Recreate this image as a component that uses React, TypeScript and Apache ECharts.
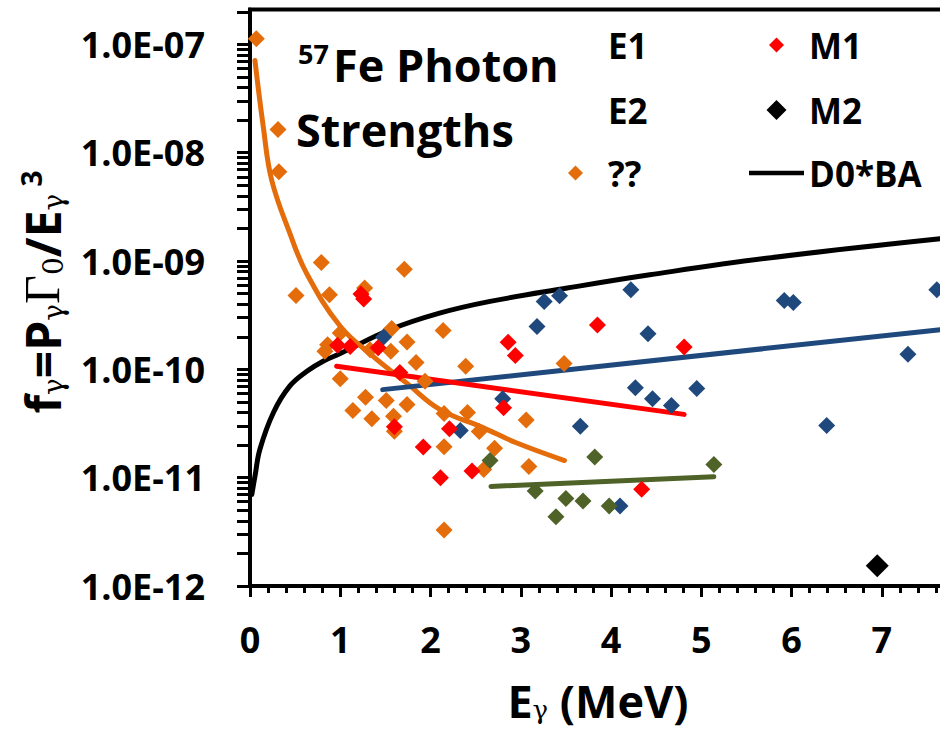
import React, { useEffect, useRef } from 'react';
import * as echarts from 'echarts';

// ---------- data ----------
const e1Energy = [1.48, 2.33, 2.80, 3.18, 3.26, 3.43, 3.66, 4.10, 4.22, 4.27, 4.41, 4.46, 4.67, 4.95, 5.92, 6.02, 6.39, 7.29, 7.61];
const e1Strength = [1.99e-10, 2.73e-11, 5.35e-11, 2.49e-10, 4.24e-10, 4.78e-10, 2.99e-11, 5.49e-12, 5.43e-10, 6.76e-11, 2.13e-10, 5.35e-11, 4.65e-11, 6.65e-11, 4.33e-10, 4.15e-10, 3.04e-11, 1.38e-10, 5.43e-10];

const e2Energy = [2.66, 3.16, 3.39, 3.50, 3.69, 3.82, 3.98, 5.14];
const e2Strength = [1.44e-11, 7.55e-12, 4.35e-12, 6.43e-12, 6.1e-12, 1.55e-11, 5.49e-12, 1.32e-11];

const unkEnergy = [0.07, 0.31, 0.32, 0.51, 0.79, 0.88, 1.27, 1.71, 1.57, 2.14, 1.74, 1.00, 0.86, 0.83, 1.33, 1.56, 1.84, 2.39, 1.00, 1.28, 1.51, 1.74, 1.94, 1.14, 1.35, 1.59, 1.60, 2.15, 2.41, 2.54, 2.15, 2.59, 2.15, 3.48, 3.06, 2.71, 3.09];
const unkStrength = [1.13e-7, 1.64e-8, 6.67e-9, 4.81e-10, 9.68e-10, 4.89e-10, 5.63e-10, 8.4e-10, 2.38e-10, 2.28e-10, 1.79e-10, 2.17e-10, 1.69e-10, 1.47e-10, 1.52e-10, 1.47e-10, 1.16e-10, 1.07e-10, 8.2e-11, 5.53e-11, 5.16e-11, 4.74e-11, 7.76e-11, 4.18e-11, 3.5e-11, 3.7e-11, 2.69e-11, 3.92e-11, 4.0e-11, 2.67e-11, 1.93e-11, 1.19e-11, 3.28e-12, 1.13e-10, 3.4e-11, 1.87e-11, 1.27e-11];

const m1Energy = [1.23, 1.26, 0.97, 1.11, 1.42, 1.66, 1.60, 2.21, 1.92, 2.11, 2.46, 2.81, 2.94, 2.86, 3.85, 4.81, 4.34];
const m1Strength = [4.95e-10, 4.46e-10, 1.67e-10, 1.63e-10, 1.58e-10, 9.35e-11, 2.95e-11, 2.83e-11, 1.92e-11, 1.0e-11, 1.15e-11, 4.42e-11, 1.34e-10, 1.78e-10, 2.57e-10, 1.61e-10, 7.8e-12];

const m2Energy = [6.95];
const m2Strength = [1.54e-12];

// D0*BA curve
const baEnergy = [0.02, 0.055, 0.11, 0.26, 0.44, 0.63, 0.81, 1.0, 1.55, 2.1, 2.66, 3.5, 4.43, 5.72, 7.7];
const baStrength = [7.0e-12, 1.03e-11, 1.83e-11, 4.0e-11, 7.0e-11, 9.6e-11, 1.19e-10, 1.40e-10, 2.32e-10, 3.3e-10, 4.24e-10, 5.6e-10, 7.46e-10, 1.06e-9, 1.62e-9];

// trend lines
const unkFitEnergy = [0.055, 0.147, 0.24, 0.442, 0.627, 1.0, 1.364, 1.733, 2.102, 2.581, 2.95, 3.485];
const unkFitStrength = [7.1e-8, 1.74e-8, 5.6e-9, 1.8e-9, 7.7e-10, 2.5e-10, 1.32e-10, 7.5e-11, 4.27e-11, 2.9e-11, 2.1e-11, 1.44e-11];
const e1FitEnergy = [1.47, 7.7];
const e1FitStrength = [6.5e-11, 2.35e-10];
const m1FitEnergy = [0.96, 4.81];
const m1FitStrength = [1.07e-10, 3.84e-11];
const e2FitEnergy = [2.67, 5.14];
const e2FitStrength = [8.3e-12, 1.02e-11];

// axes
const xTickLabels = ['0', '1', '2', '3', '4', '5', '6', '7'];
const decadeExponents = [-12, -11, -10, -9, -8, -7];
const minorMultipliers = [2, 3, 4, 5, 6, 7, 8, 9];
const yMin = 1e-12;
const yMax = 2.1e-7;

const C_BLUE = '#1F497D';
const C_GREEN = '#4F6228';
const C_ORANGE = '#E46C0A';
const C_RED = '#FF0000';
const C_BLACK = '#000000';
const FONT = '"Open Sans", sans-serif';

// legend diamond icons padded to a 55-px-wide box so the text sits where it should
const ICON_D15 = 'path://M0,0M55,15M27.5,0L35,7.5L27.5,15L20,7.5Z';
const ICON_D20 = 'path://M0,0M55,20M27.5,0L37.5,10L27.5,20L17.5,10Z';

const pairs = (xs: number[], ys: number[]) => xs.map((x, i) => [x, ys[i]]);

export default function App() {
  const ref = useRef<HTMLDivElement>(null);

  useEffect(() => {
    if (!ref.current) return;
    const chart = echarts.init(ref.current, null, { renderer: 'svg' });

    const topLog = Math.log10(yMax);
    const tickLogs: number[] = [];
    decadeExponents.forEach((e) => {
      tickLogs.push(e);
      minorMultipliers.forEach((m) => {
        const v = e + Math.log10(m);
        if (v <= topLog + 1e-9) tickLogs.push(v);
      });
    });

    const lbl = { fontFamily: FONT, fontWeight: 'bold' as const, color: '#000' };

    const scatter = (name: string, xs: number[], ys: number[], color: string, size: number) => ({
      name,
      type: 'scatter',
      yAxisIndex: 0,
      data: pairs(xs, ys),
      symbol: 'diamond',
      symbolSize: size,
      itemStyle: { color, opacity: 1 },
      z: 5,
    });
    const line = (name: string, xs: number[], ys: number[], color: string, width: number, smooth: boolean | number) => ({
      name,
      type: 'line',
      yAxisIndex: 0,
      data: pairs(xs, ys),
      symbol: 'none',
      showSymbol: false,
      smooth,
      lineStyle: { color, width, cap: 'round' },
      itemStyle: { color },
      z: 3,
    });

    const legendBase = {
      orient: 'vertical',
      padding: 0,
      selectedMode: false,
      itemWidth: 55,
      textStyle: { ...lbl, fontSize: 35 },
    };

    chart.setOption({
      animation: false,
      backgroundColor: '#fff',
      grid: {
        left: 250,
        right: 2,
        top: 9.5,
        bottom: 148,
        show: true,
        borderColor: '#000',
        borderWidth: 4,
        backgroundColor: 'transparent',
      },
      xAxis: {
        type: 'value',
        min: 0,
        max: 8,
        interval: 1,
        axisLine: { show: true, onZero: false, lineStyle: { color: '#000', width: 4 } },
        axisTick: { show: true, length: 11, lineStyle: { color: '#000', width: 3 } },
        minorTick: { show: true, splitNumber: 5, length: 7, lineStyle: { color: '#000', width: 3 } },
        splitLine: { show: false },
        minorSplitLine: { show: false },
        axisLabel: {
          ...lbl,
          fontSize: 36,
          margin: 35,
          formatter: (v: number) => xTickLabels[Math.round(v)] ?? '',
        },
      },
      yAxis: [
        {
          type: 'log',
          logBase: 10,
          min: yMin,
          max: yMax,
          axisLine: { show: true, lineStyle: { color: '#000', width: 4 } },
          axisTick: { show: false },
          minorTick: { show: false },
          axisLabel: { show: false },
          splitLine: { show: false },
        },
        {
          type: 'value',
          position: 'left',
          min: -12,
          max: topLog,
          axisLine: { show: false },
          axisTick: { show: true, inside: false, length: 13, customValues: tickLogs, lineStyle: { color: '#000', width: 3 } },
          axisLabel: {
            ...lbl,
            fontSize: 36,
            margin: 45,
            customValues: decadeExponents,
            formatter: (v: number) => '1.0E-' + String(-Math.round(v)).padStart(2, '0'),
          },
          splitLine: { show: false },
        },
      ],
      legend: [
        { ...legendBase, left: 548, top: 27.5, itemHeight: 15, data: [{ name: 'E1', itemStyle: { opacity: 0, color: 'rgba(0,0,0,0)' } }] },
        { ...legendBase, left: 548, top: 92.5, itemHeight: 15, data: [{ name: 'E2', itemStyle: { opacity: 0, color: 'rgba(0,0,0,0)' } }] },
        { ...legendBase, left: 548, top: 155.5, itemHeight: 15, data: [{ name: '??', icon: ICON_D15 }] },
        { ...legendBase, left: 749, top: 27.5, itemHeight: 15, data: [{ name: 'M1', icon: ICON_D15 }] },
        { ...legendBase, left: 749, top: 92.5, itemHeight: 20, data: [{ name: 'M2', icon: ICON_D20 }] },
        { ...legendBase, left: 749, top: 155.5, itemHeight: 4.5, data: [{ name: 'D0*BA', icon: 'rect', itemStyle: { color: '#000' } }] },
      ],
      graphic: [
        { type: 'text', x: 298, y: 53, z: 10, style: { text: '57', fontSize: 27, fontWeight: 'bold', fontFamily: FONT, fill: '#000', align: 'left', verticalAlign: 'middle' } },
        { type: 'text', x: 333, y: 64, z: 10, style: { text: 'Fe Photon', fontSize: 45, fontWeight: 'bold', fontFamily: FONT, fill: '#000', align: 'left', verticalAlign: 'middle' } },
        { type: 'text', x: 296, y: 129, z: 10, style: { text: 'Strengths', fontSize: 45, fontWeight: 'bold', fontFamily: FONT, fill: '#000', align: 'left', verticalAlign: 'middle' } },
        {
          type: 'text', x: 598, y: 700, z: 10,
          style: {
            text: '{b|E}{s|γ}{b| (MeV)}', align: 'center', verticalAlign: 'middle', fill: '#000',
            rich: {
              b: { fontSize: 45, fontWeight: 'bold', fontFamily: FONT, fill: '#000' },
              s: { fontSize: 26, fontFamily: '"DejaVu Serif", serif', fill: '#000', verticalAlign: 'bottom' },
            },
          },
        },
        {
          type: 'text', x: 42, y: 292, rotation: Math.PI / 2, z: 10,
          style: {
            text: '{b|f}{s|γ}{b|=P}{s|γ}{g|Γ}{s|0}{b|/E}{s|γ}{sup| 3}', align: 'center', verticalAlign: 'middle', fill: '#000',
            rich: {
              b: { fontSize: 48, fontWeight: 'bold', fontFamily: FONT, fill: '#000' },
              s: { fontSize: 28, fontFamily: '"DejaVu Serif", serif', fill: '#000', verticalAlign: 'bottom' },
              g: { fontSize: 50, fontFamily: '"Liberation Serif", serif', fill: '#000' },
              sup: { fontSize: 28, fontWeight: 'bold', fontFamily: FONT, fill: '#000', verticalAlign: 'top' },
            },
          },
        },
      ],
      series: [
        line('D0*BA', baEnergy, baStrength, C_BLACK, 5, 0.4),
        line('??-fit', unkFitEnergy, unkFitStrength, C_ORANGE, 5, 0.4),
        line('E1-fit', e1FitEnergy, e1FitStrength, C_BLUE, 5, false),
        line('M1-fit', m1FitEnergy, m1FitStrength, C_RED, 5, false),
        line('E2-fit', e2FitEnergy, e2FitStrength, C_GREEN, 5, false),
        scatter('??', unkEnergy, unkStrength, C_ORANGE, 17),
        scatter('E1', e1Energy, e1Strength, C_BLUE, 17),
        scatter('E2', e2Energy, e2Strength, C_GREEN, 17),
        scatter('M1', m1Energy, m1Strength, C_RED, 17),
        scatter('M2', m2Energy, m2Strength, C_BLACK, 23),
      ],
    });

    return () => chart.dispose();
  }, []);

  // the plot runs on past the right edge of the 940-px window, as in the reference
  return <div ref={ref} style={{ position: 'fixed', left: 0, top: 0, width: 975, height: 734 }} />;
}
